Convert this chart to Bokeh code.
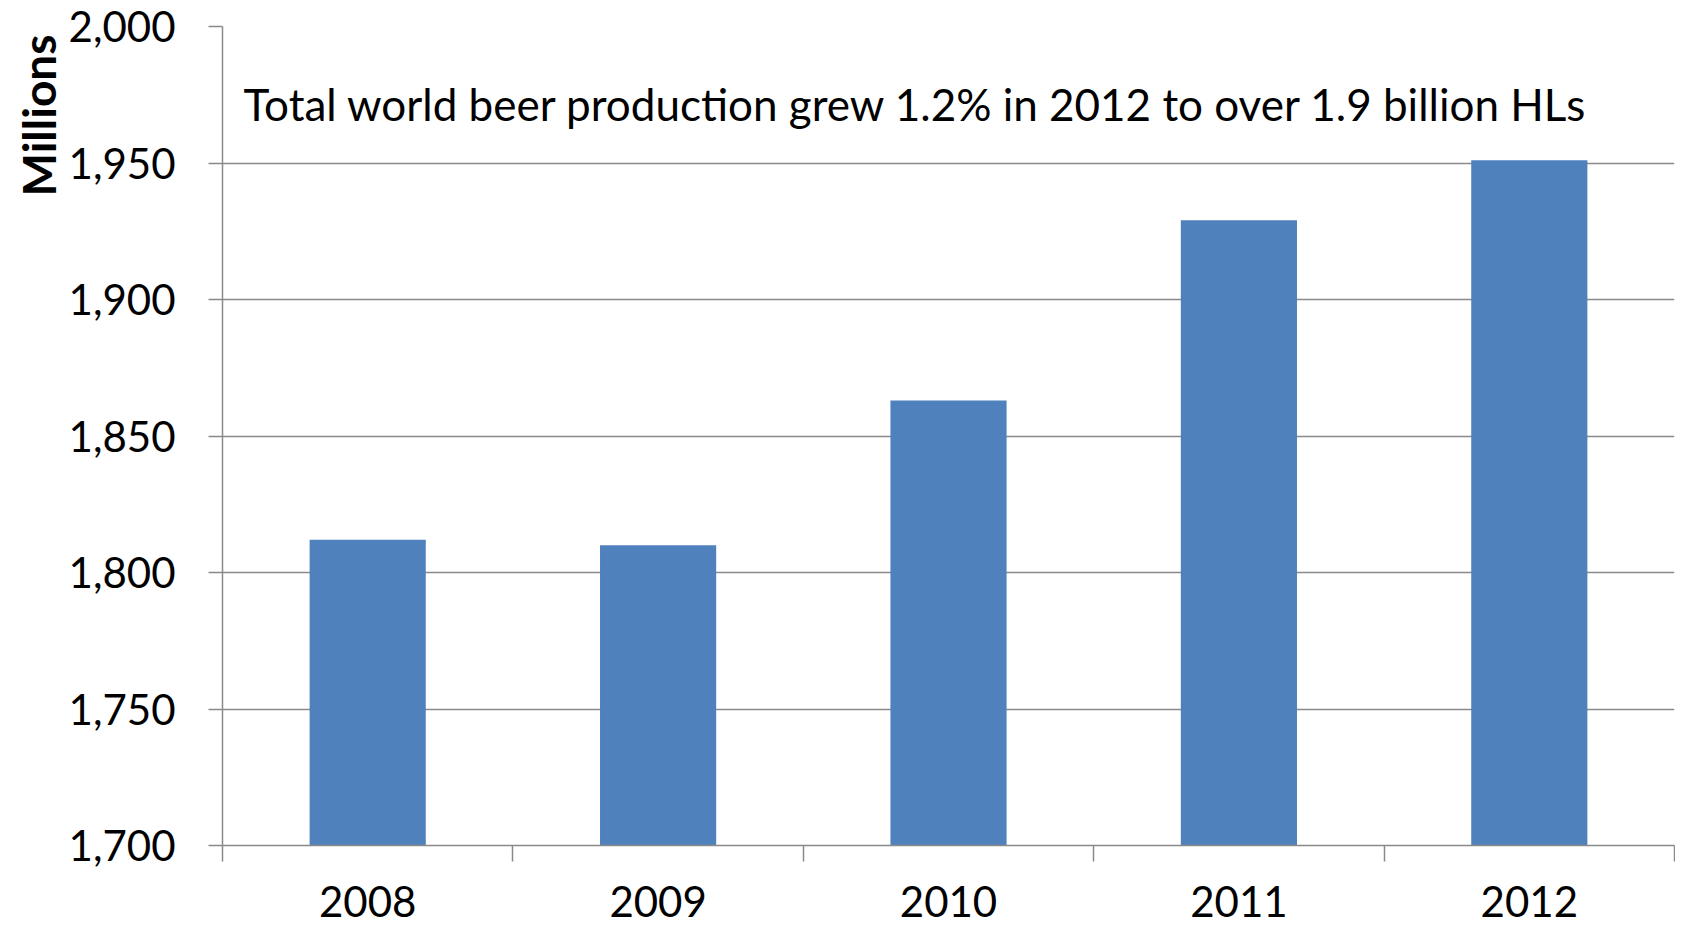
from bokeh.plotting import figure
from bokeh.models import FixedTicker, NumeralTickFormatter, Range1d, Label, ColumnDataSource, Title
from bokeh.embed import file_html
from bokeh.resources import INLINE
import numpy as np

years = ["2008", "2009", "2010", "2011", "2012"]
production = [1812, 1810, 1863, 1929, 1951]
y_ticks = [1700, 1750, 1800, 1850, 1900, 1950, 2000]
note = "Total world beer production grew 1.2% in 2012 to over 1.9 billion HLs"
y_title = "Millions"

FONT = "Lato"
GRID = "#8a8a8a"

centers = list(np.arange(len(years)) + 0.5)
edges = list(range(len(years) + 1))
src = ColumnDataSource(dict(x=centers, top=production, year=years))

p = figure(width=1675, height=925, output_backend="svg", toolbar_location=None,
           x_range=Range1d(0, len(years)), y_range=Range1d(1700, 2000),
           min_border_left=222, min_border_right=1, min_border_top=26, min_border_bottom=80)
p.outline_line_color = None
p.background_fill_color = "white"

p.vbar(x="x", top="top", bottom=1700, width=0.4, source=src, fill_color="#4F81BD", line_color=None)

# y axis
ya = p.yaxis[0]
ya.ticker = FixedTicker(ticks=y_ticks)
ya.formatter = NumeralTickFormatter(format="0,0")
ya.axis_line_color = GRID
ya.axis_line_width = 1.5
ya.major_tick_line_color = GRID
ya.major_tick_line_width = 1.5
ya.major_tick_out = 14
ya.major_tick_in = 0
ya.minor_tick_line_color = None
ya.major_label_text_font = FONT
ya.major_label_text_font_size = "42px"
ya.major_label_text_color = "black"
ya.major_label_standoff = 33

# x axis: labels at centres, ticks at boundaries
xa = p.xaxis[0]
xa.ticker = FixedTicker(ticks=centers, minor_ticks=edges)
xa.major_label_overrides = {c: y for c, y in zip(centers, years)}
xa.axis_line_color = GRID
xa.axis_line_width = 1.5
xa.major_tick_line_color = None
xa.major_tick_out = 0
xa.major_tick_in = 0
xa.minor_tick_line_color = GRID
xa.minor_tick_line_width = 1.5
xa.minor_tick_out = 16
xa.minor_tick_in = 0
xa.major_label_text_font = FONT
xa.major_label_text_font_size = "42px"
xa.major_label_text_color = "black"
xa.major_label_standoff = 24

p.xgrid.grid_line_color = None
p.ygrid.ticker = FixedTicker(ticks=y_ticks)
p.ygrid.grid_line_color = GRID
p.ygrid.grid_line_width = 1.5

p.add_layout(Label(x=0, y=1971.5, x_offset=21, text=note, text_font=FONT,
                   text_font_size="44px", text_color="black", text_baseline="alphabetic"))

p.add_layout(Title(text=y_title, align="right", offset=8, text_font=FONT,
                   text_font_style="bold", text_font_size="46px", text_color="black",
                   standoff=0), "left")

open("out.html", "w").write(file_html(p, INLINE))
